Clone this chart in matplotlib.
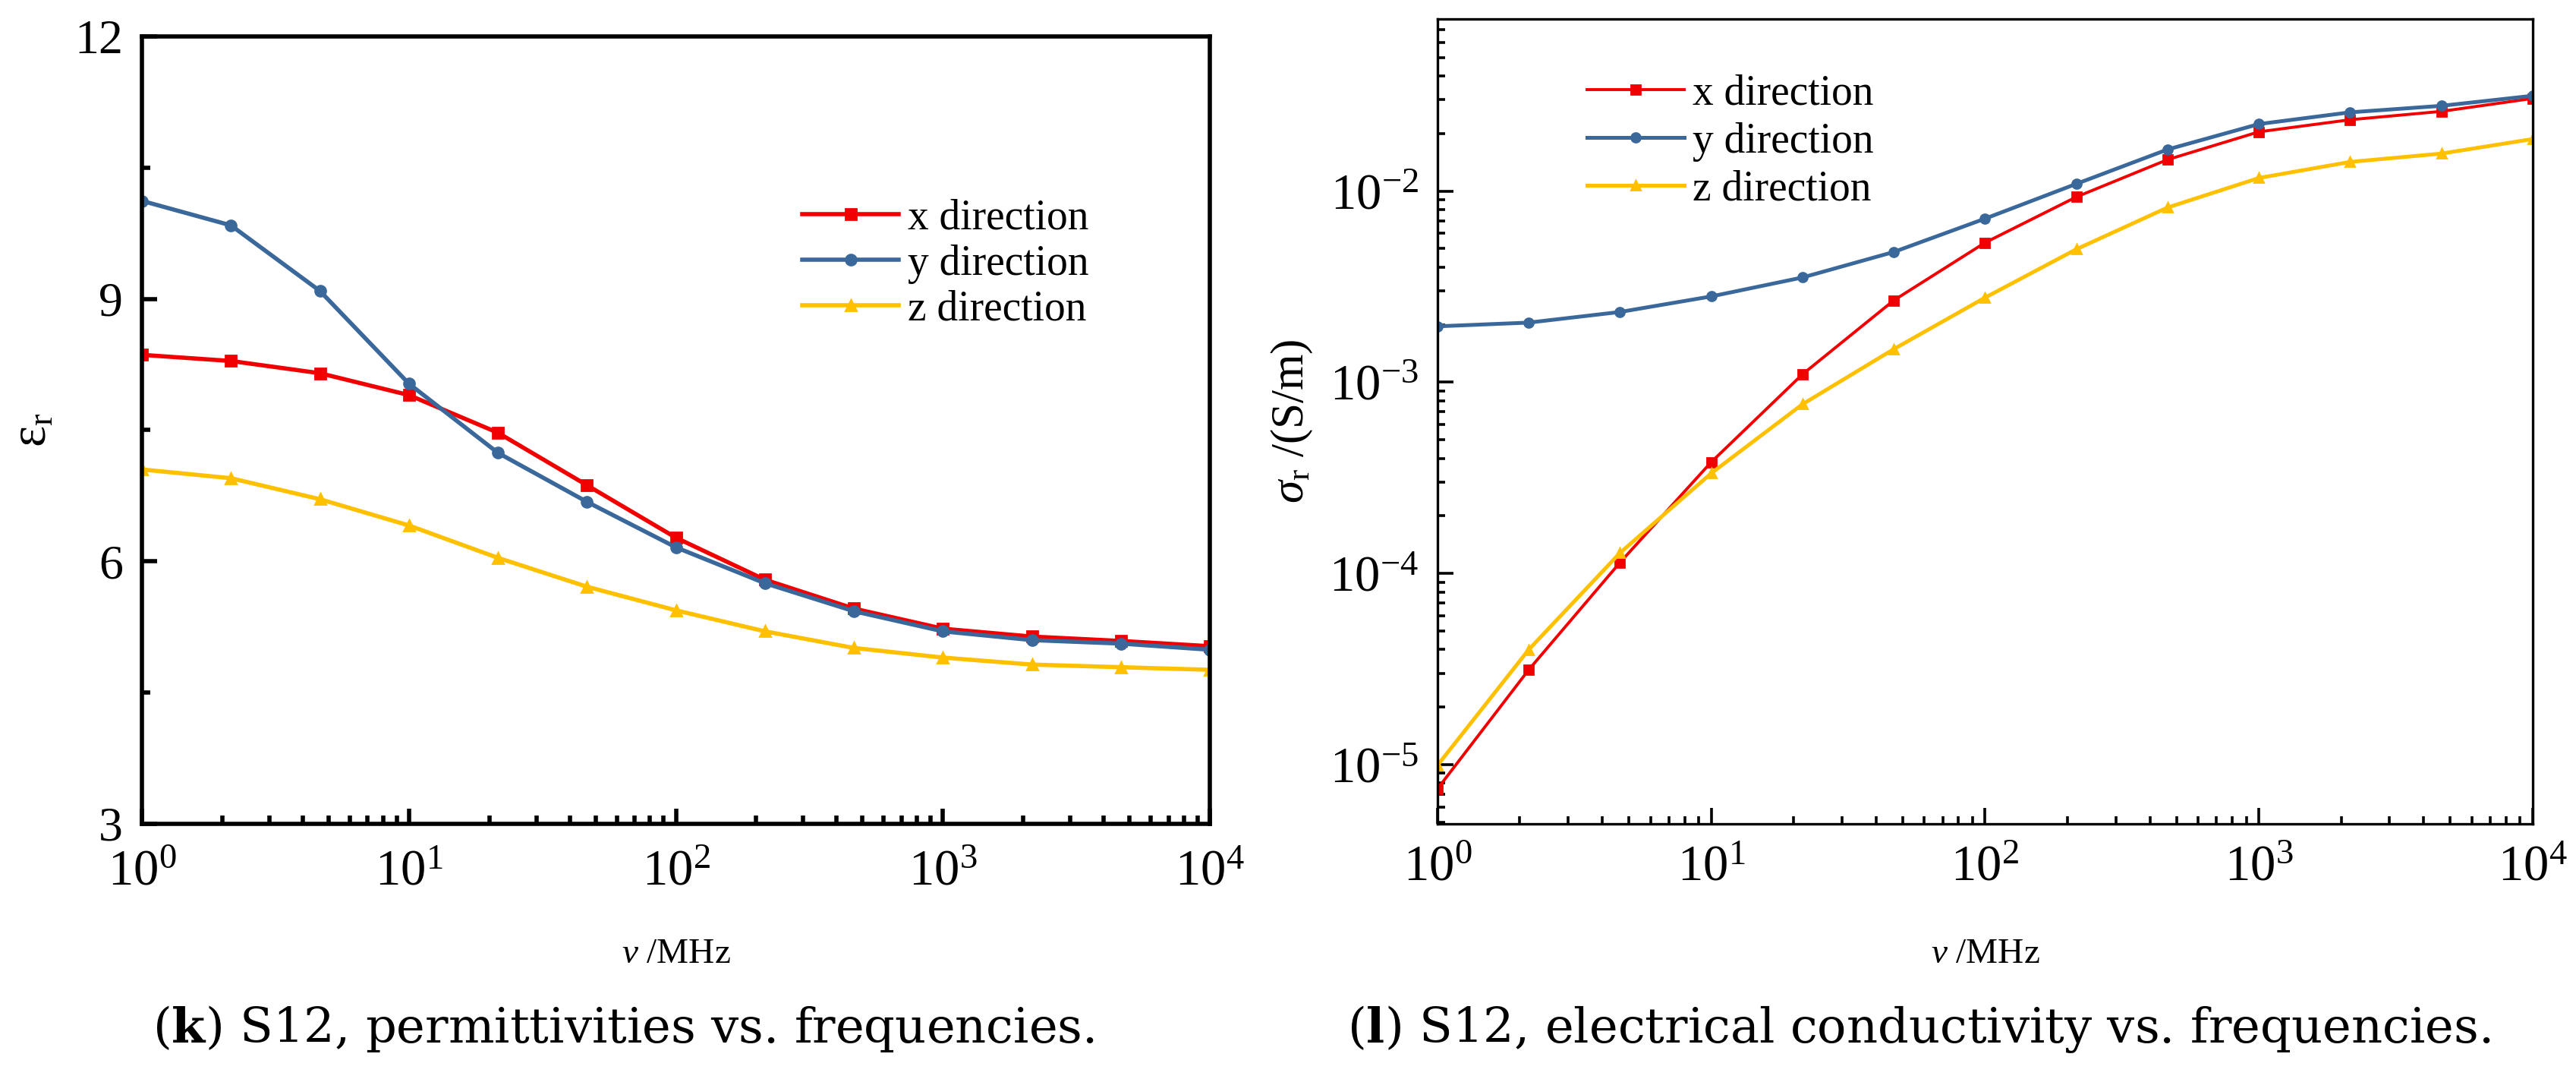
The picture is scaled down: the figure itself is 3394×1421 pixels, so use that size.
import math
import matplotlib
matplotlib.use("Agg")
import matplotlib.pyplot as plt
import matplotlib.ticker as mticker

plt.rcParams['font.family'] = ['Liberation Serif', 'DejaVu Serif']
plt.rcParams['mathtext.fontset'] = 'custom'
plt.rcParams['mathtext.rm'] = 'Liberation Serif'
plt.rcParams['mathtext.it'] = 'Liberation Serif:italic'
plt.rcParams['mathtext.bf'] = 'DejaVu Serif:bold'

# ---- data ----
freq = [1, 2.154, 4.642, 10, 21.54, 46.42, 100, 215.4, 464.2, 1000, 2154, 4642, 10000]

eps_x = [8.36, 8.29, 8.15, 7.90, 7.47, 6.87, 6.27, 5.79, 5.46, 5.23, 5.14, 5.09, 5.03]
eps_y = [10.12, 9.84, 9.09, 8.03, 7.24, 6.68, 6.16, 5.75, 5.43, 5.20, 5.10, 5.06, 4.99]
eps_z = [7.05, 6.95, 6.71, 6.41, 6.04, 5.71, 5.44, 5.20, 5.01, 4.90, 4.82, 4.79, 4.76]

sig_x = [7.46e-6, 3.13e-5, 1.14e-4, 3.82e-4, 1.10e-3, 2.68e-3, 5.37e-3, 9.31e-3,
         1.46e-2, 2.04e-2, 2.36e-2, 2.61e-2, 3.05e-2]
sig_y = [1.96e-3, 2.05e-3, 2.33e-3, 2.81e-3, 3.53e-3, 4.80e-3, 7.17e-3, 1.09e-2,
         1.65e-2, 2.24e-2, 2.58e-2, 2.79e-2, 3.15e-2]
sig_z = [9.9e-6, 3.99e-5, 1.28e-4, 3.34e-4, 7.67e-4, 1.49e-3, 2.77e-3, 4.96e-3,
         8.2e-3, 1.17e-2, 1.42e-2, 1.57e-2, 1.87e-2]

labels = ['x direction', 'y direction', 'z direction']
colors = ['#F00000', '#3A689B', '#FFC000']
markers = ['s', 'o', '^']


def pow10(v, pos):
    return r'$10^{%d}$' % round(math.log10(v))


fig = plt.figure(figsize=(16.97, 7.105), dpi=200)
ax1 = fig.add_axes([0.0551, 0.2365, 0.4146, 0.7298])
ax2 = fig.add_axes([0.5580, 0.2365, 0.4252, 0.7460])

# ---- left: permittivity ----
for vals, lab, c, m in zip([eps_x, eps_y, eps_z], labels, colors, markers):
    ax1.plot(freq, vals, color=c, marker=m, markersize=5, linewidth=2.0, label=lab)
ax1.set_xscale('log')
ax1.set_xlim(1, 1e4)
ax1.set_ylim(3, 12)
ax1.set_yticks([3, 6, 9, 12])
ax1.yaxis.set_minor_locator(mticker.FixedLocator([4.5, 7.5, 10.5]))
ax1.xaxis.set_major_formatter(mticker.FuncFormatter(pow10))
for sp in ax1.spines.values():
    sp.set_linewidth(2.0)
ax1.tick_params(which='both', direction='in', top=False, right=False, width=2.0)
ax1.tick_params(which='major', length=7.2)
ax1.tick_params(which='minor', length=3.8)
ax1.tick_params(axis='y', labelsize=23, pad=9)
ax1.tick_params(axis='x', labelsize=24, pad=12)
ax1.set_ylabel(r'$\mathrm{\varepsilon}_\mathrm{r}$', fontsize=24)
ax1.yaxis.set_label_coords(-0.080, 0.5)
ax1.set_xlabel(r'$v$ /MHz', fontsize=17)
ax1.xaxis.set_label_coords(0.5, -0.145)
ax1.legend(loc='center left', bbox_to_anchor=(0.618, 0.711), frameon=False,
           fontsize=20, handlelength=2.3, handletextpad=0.2, labelspacing=0.15,
           borderpad=0, borderaxespad=0)

# ---- right: conductivity ----
for vals, lab, c, m, lw in zip([sig_x, sig_y, sig_z], labels, colors, markers, [1.4, 1.8, 1.8]):
    ax2.plot(freq, vals, color=c, marker=m, markersize=4.3, linewidth=lw, label=lab)
ax2.set_xscale('log')
ax2.set_yscale('log')
ax2.set_xlim(1, 1e4)
ax2.set_ylim(4.9e-6, 7.95e-2)
ax2.yaxis.set_major_locator(mticker.FixedLocator([1e-5, 1e-4, 1e-3, 1e-2]))
ax2.yaxis.set_major_formatter(mticker.FuncFormatter(pow10))
ax2.xaxis.set_major_formatter(mticker.FuncFormatter(pow10))
ax2.yaxis.set_minor_locator(mticker.LogLocator(base=10, subs=range(2, 10), numticks=20))
ax2.yaxis.set_minor_formatter(mticker.NullFormatter())
for sp in ax2.spines.values():
    sp.set_linewidth(1.2)
ax2.tick_params(which='both', direction='in', top=False, right=False, width=1.3)
ax2.tick_params(which='major', length=7.5)
ax2.tick_params(which='minor', length=3.6)
ax2.tick_params(axis='y', labelsize=24, pad=9)
ax2.tick_params(axis='x', labelsize=24, pad=10)
ax2.set_ylabel(r'$\sigma_\mathrm{r}$ /(S/m)', fontsize=22)
ax2.yaxis.set_label_coords(-0.112, 0.5)
ax2.set_xlabel(r'$v$ /MHz', fontsize=17)
ax2.xaxis.set_label_coords(0.5, -0.142)
ax2.legend(loc='center left', bbox_to_anchor=(0.1365, 0.8475), frameon=False,
           fontsize=20, handlelength=2.3, handletextpad=0.2, labelspacing=0.2,
           borderpad=0, borderaxespad=0)

# ---- captions ----
fig.text(821 / 3394, 1 - 1373 / 1421, r'($\mathbf{k}$) S12, permittivities vs. frequencies.',
         ha='center', va='baseline', fontsize=23, family='DejaVu Serif')
fig.text(2528 / 3394, 1 - 1373 / 1421, r'($\mathbf{l}$) S12, electrical conductivity vs. frequencies.',
         ha='center', va='baseline', fontsize=23, family='DejaVu Serif')

fig.savefig('out.png', dpi=200)
